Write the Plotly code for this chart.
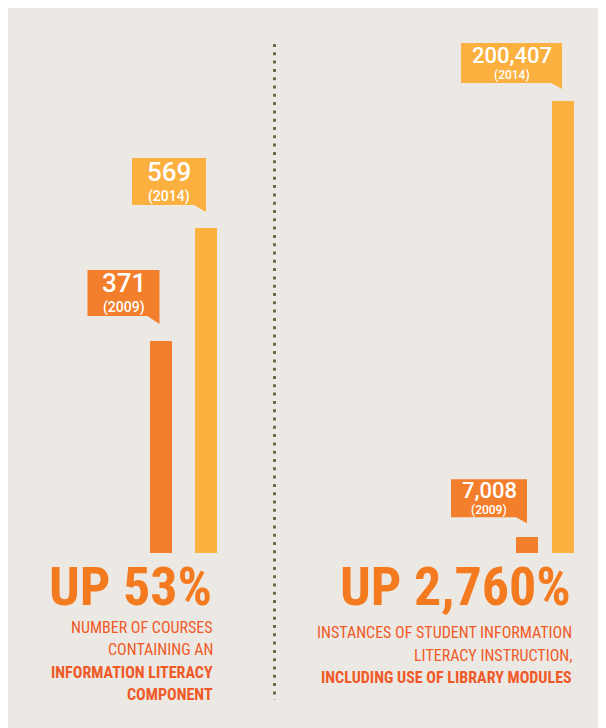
import plotly.graph_objects as go

# ---------------- data ----------------
years = ["2009", "2014"]
courses = [371, 569]
instances = [7008, 200407]
bar_colors = ["#F37E2B", "#FBB040"]
year_labels = ["(2009)", "(2014)"]
headline_left = "UP 53%"
headline_right = "UP 2,760%"
left_lines = ["NUMBER OF COURSES", "CONTAINING AN", "INFORMATION LITERACY", "COMPONENT"]
left_bold = [False, False, True, True]
right_lines = ["INSTANCES OF STUDENT INFORMATION", "LITERACY INSTRUCTION,", "INCLUDING USE OF LIBRARY MODULES"]
right_bold = [False, False, True]

# ---------------- layout helpers ----------------
W, H = 606, 728
OFF = 8  # page body margin: screen px -> figure px
BG = "#ECE9E4"
HEAD = "#F47A20"
SUB = "#F05A28"
COND = "Roboto Condensed, Open Sans Condensed, DejaVu Sans Condensed, sans-serif"
NUMF = "Roboto, Liberation Sans, Arial, sans-serif"


def pxx(x):
    return (x - OFF) / W


def pyy(y):
    return 1 - (y - OFF) / H


fig = go.Figure()
fig.add_trace(go.Bar(x=years, y=courses, marker=dict(color=bar_colors, line=dict(width=0)),
                     width=22 / 45.5, xaxis="x", yaxis="y", hoverinfo="skip", showlegend=False))
fig.add_trace(go.Bar(x=years, y=instances, marker=dict(color=bar_colors, line=dict(width=0)),
                     width=22 / 36, xaxis="x2", yaxis="y2", hoverinfo="skip", showlegend=False))

base_py = 553
top_py = 20
left_unit = 45.5
right_unit = 36.0
left_range_max = max(courses) * (base_py - top_py) / 325
right_range_max = max(instances) * (base_py - top_py) / 452

ax_common = dict(visible=False, showgrid=False, zeroline=False, fixedrange=True)
fig.update_layout(
    width=W, height=H,
    margin=dict(l=0, r=0, t=0, b=0),
    paper_bgcolor=BG, plot_bgcolor="rgba(0,0,0,0)",
    bargap=0,
    xaxis=dict(domain=[pxx(40), pxx(260)],
               range=[-(160.5 - 40) / left_unit, -(160.5 - 40) / left_unit + 220 / left_unit],
               type="category", **ax_common),
    yaxis=dict(domain=[pyy(base_py), pyy(top_py)], range=[0, left_range_max], **ax_common),
    xaxis2=dict(domain=[pxx(300), pxx(600)],
                range=[-(527 - 300) / right_unit, -(527 - 300) / right_unit + 300 / right_unit],
                type="category", anchor="y2", **ax_common),
    yaxis2=dict(domain=[pyy(base_py), pyy(top_py)], range=[0, right_range_max], anchor="x2", **ax_common),
)

shapes = []
# dotted divider
shapes.append(dict(type="line", xref="paper", yref="paper", x0=pxx(274.5), x1=pxx(274.5), y0=pyy(44), y1=pyy(700),
                   line=dict(color="#6B6B45", width=3, dash="3px,5.3px")))

# callouts: (box x0, box x1, box y0, box y1, tail x, tip x, tip y, text x, number y, year y, number size, year size)
callouts = {
    ("x", "y"): [
        (-73, -1, 25, 71, -13, -1, 17, -37, 58, 34, 26, 14),
        (-74, 0, 23, 70, -12, 0, 16, -37, 56, 32, 26, 14),
    ],
    ("x2", "y2"): [
        (-76, 0, 20, 58, -11, 0, 14, -38, 47, 27, 22, 12),
        (-102, -1, 18, 58, -12, -1, 12, -51, 46, 26, 22, 12),
    ],
}
series = {("x", "y"): courses, ("x2", "y2"): instances}

annotations = []
for (xr, yr), specs in callouts.items():
    vals = series[(xr, yr)]
    for i, (bx0, bx1, by0, by1, tx, tipx, tipy, txx, ny, yy, nsz, ysz) in enumerate(specs):
        path = f"M {bx0},{by0} L {bx0},{by1} L {bx1},{by1} L {bx1},{by0} L {tipx},{tipy} L {tx},{by0} Z"
        shapes.append(dict(type="path", xref=xr, yref=yr, xsizemode="pixel", ysizemode="pixel",
                           xanchor=i, yanchor=vals[i], path=path,
                           fillcolor=bar_colors[i], line=dict(width=0), layer="above"))
        annotations.append(dict(xref=xr, yref=yr, x=i, y=vals[i], xshift=txx, yshift=ny,
                                text=f"{vals[i]:,}", showarrow=False, xanchor="center", yanchor="middle",
                                font=dict(family=NUMF, size=nsz, color="white", weight=500)))
        annotations.append(dict(xref=xr, yref=yr, x=i, y=vals[i], xshift=txx, yshift=yy,
                                text=year_labels[i], showarrow=False, xanchor="center", yanchor="middle",
                                font=dict(family=NUMF, size=ysz, color="white", weight=500)))

# headlines
for txt, xr in ((headline_left, 214), (headline_right, 573)):
    annotations.append(dict(xref="paper", yref="paper", x=pxx(xr), y=pyy(586), text=f"<b>{txt}</b>",
                            showarrow=False, xanchor="right", yanchor="middle",
                            font=dict(family=COND, size=54, color=HEAD)))

left_y = [627, 649.5, 672, 694.5]
for line, bold, yv in zip(left_lines, left_bold, left_y):
    annotations.append(dict(xref="paper", yref="paper", x=pxx(215), y=pyy(yv),
                            text=f"<b>{line}</b>" if bold else line, showarrow=False,
                            xanchor="right", yanchor="middle",
                            font=dict(family=COND, size=16, color=SUB)))
right_y = [632.5, 655, 677.5]
for line, bold, yv in zip(right_lines, right_bold, right_y):
    annotations.append(dict(xref="paper", yref="paper", x=pxx(574), y=pyy(yv),
                            text=f"<b>{line}</b>" if bold else line, showarrow=False,
                            xanchor="right", yanchor="middle",
                            font=dict(family=COND, size=16, color=SUB)))

fig.update_layout(shapes=shapes, annotations=annotations)
fig.write_html("out.html")
